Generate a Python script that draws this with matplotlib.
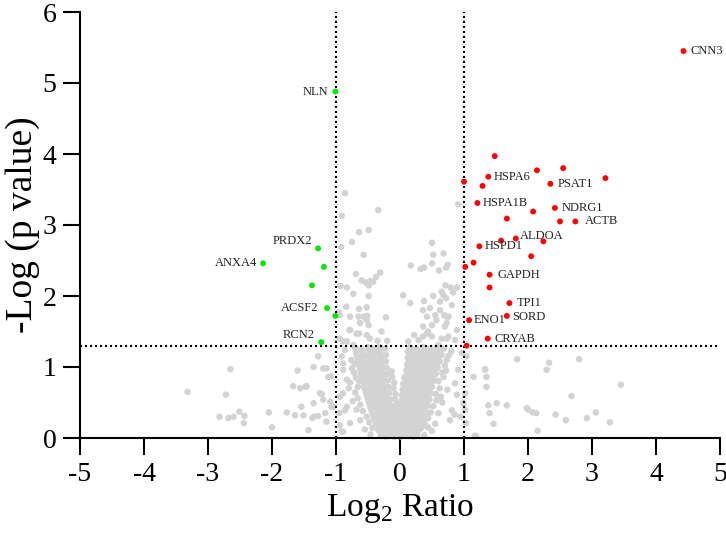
import matplotlib
matplotlib.use("Agg")
import matplotlib.pyplot as plt

plt.rcParams["font.family"] = ["Liberation Serif", "DejaVu Serif"]
plt.rcParams["mathtext.fontset"] = "custom"
plt.rcParams["mathtext.rm"] = "Liberation Serif"
plt.rcParams["axes.unicode_minus"] = False

# ---- data: (log2 ratio, -log p) ----
gray_core = [
    (-0.30, 0.04), (-0.22, 0.02), (-0.15, 0.05), (-0.09, 0.02), (-0.03, 0.03),
    (0.02, 0.02), (0.08, 0.05), (0.14, 0.03), (0.21, 0.02), (0.27, 0.05),
    (-0.34, 0.11), (-0.27, 0.09), (-0.19, 0.12), (-0.12, 0.10), (-0.05, 0.11),
    (0.03, 0.12), (0.09, 0.09), (0.15, 0.12), (0.22, 0.10), (0.29, 0.11),
    (-0.37, 0.19), (-0.30, 0.21), (-0.23, 0.18), (-0.16, 0.20), (-0.09, 0.18), (-0.04, 0.21),
    (0.04, 0.19), (0.10, 0.21), (0.17, 0.18), (0.24, 0.20), (0.31, 0.19),
    (-0.41, 0.28), (-0.34, 0.26), (-0.27, 0.29), (-0.20, 0.27), (-0.13, 0.29), (-0.07, 0.27),
    (0.05, 0.28), (0.11, 0.26), (0.18, 0.29), (0.25, 0.27), (0.32, 0.29), (0.38, 0.26),
    (-0.44, 0.37), (-0.37, 0.35), (-0.30, 0.38), (-0.23, 0.36), (-0.16, 0.38), (-0.10, 0.36),
    (0.06, 0.37), (0.13, 0.35), (0.20, 0.38), (0.27, 0.36), (0.34, 0.38), (0.41, 0.36),
    (-0.47, 0.46), (-0.40, 0.44), (-0.33, 0.47), (-0.26, 0.45), (-0.19, 0.47), (-0.12, 0.45),
    (0.07, 0.46), (0.14, 0.44), (0.21, 0.47), (0.28, 0.45), (0.35, 0.47), (0.43, 0.45),
    (-0.50, 0.55), (-0.43, 0.53), (-0.36, 0.56), (-0.29, 0.54), (-0.22, 0.56), (-0.15, 0.54),
    (0.08, 0.55), (0.15, 0.53), (0.23, 0.56), (0.30, 0.54), (0.38, 0.56), (0.46, 0.54),
    (-0.53, 0.64), (-0.46, 0.62), (-0.38, 0.65), (-0.31, 0.63), (-0.24, 0.65), (-0.17, 0.63),
    (0.09, 0.64), (0.17, 0.62), (0.24, 0.65), (0.32, 0.63), (0.40, 0.65), (0.48, 0.63),
    (-0.56, 0.73), (-0.48, 0.71), (-0.41, 0.74), (-0.33, 0.72), (-0.26, 0.74), (-0.18, 0.72),
    (0.10, 0.73), (0.18, 0.71), (0.26, 0.74), (0.34, 0.72), (0.42, 0.74), (0.50, 0.72),
    (-0.58, 0.82), (-0.50, 0.80), (-0.43, 0.83), (-0.35, 0.81), (-0.27, 0.83), (-0.19, 0.81),
    (0.11, 0.82), (0.19, 0.80), (0.28, 0.83), (0.36, 0.81), (0.45, 0.83), (0.53, 0.81),
    (-0.61, 0.91), (-0.52, 0.89), (-0.44, 0.92), (-0.36, 0.90), (-0.28, 0.92), (-0.20, 0.90),
    (0.12, 0.91), (0.20, 0.89), (0.29, 0.92), (0.38, 0.90), (0.47, 0.92), (0.56, 0.90),
    (-0.63, 1.00), (-0.54, 0.98), (-0.46, 1.01), (-0.38, 0.99), (-0.30, 1.01), (-0.21, 0.99),
    (0.13, 1.00), (0.22, 0.98), (0.31, 1.01), (0.40, 0.99), (0.50, 1.01), (0.59, 0.99),
    (-0.65, 1.09), (-0.56, 1.07), (-0.47, 1.10), (-0.39, 1.08), (-0.30, 1.10), (-0.22, 1.08),
    (0.14, 1.09), (0.23, 1.07), (0.33, 1.10), (0.42, 1.08), (0.52, 1.10), (0.62, 1.08),
    (-0.68, 1.18), (-0.58, 1.16), (-0.49, 1.19), (-0.40, 1.17), (-0.31, 1.19), (-0.22, 1.17),
    (0.15, 1.18), (0.24, 1.16), (0.34, 1.19), (0.44, 1.17), (0.55, 1.19), (0.65, 1.17),
    (-0.70, 1.27), (-0.60, 1.25), (-0.50, 1.28), (-0.41, 1.26), (-0.32, 1.28), (-0.23, 1.26),
    (0.16, 1.27), (0.26, 1.25), (0.36, 1.28), (0.47, 1.26), (0.58, 1.28), (0.69, 1.26),
]

gray_core_fill = [
    (-0.26, 0.07), (-0.18, 0.06), (-0.12, 0.08), (-0.06, 0.06), (0.00, 0.07),
    (0.05, 0.08), (0.11, 0.06), (0.18, 0.07), (0.24, 0.08),
    (-0.32, 0.15), (-0.23, 0.14), (-0.16, 0.16), (-0.08, 0.15), (-0.01, 0.14),
    (0.06, 0.16), (0.12, 0.14), (0.19, 0.16), (0.26, 0.15), (0.33, 0.14),
    (-0.38, 0.24), (-0.31, 0.23), (-0.24, 0.25), (-0.17, 0.23), (-0.10, 0.24),
    (0.01, 0.23), (0.08, 0.25), (0.14, 0.23), (0.21, 0.24), (0.28, 0.23), (0.35, 0.25),
    (-0.42, 0.33), (-0.35, 0.32), (-0.28, 0.34), (-0.21, 0.32), (-0.14, 0.33),
    (0.03, 0.32), (0.09, 0.34), (0.16, 0.32), (0.23, 0.33), (0.30, 0.32), (0.37, 0.34),
    (-0.46, 0.42), (-0.39, 0.41), (-0.32, 0.43), (-0.25, 0.41), (-0.18, 0.42),
    (0.04, 0.41), (0.10, 0.43), (0.17, 0.41), (0.24, 0.42), (0.31, 0.41), (0.39, 0.43),
    (-0.49, 0.51), (-0.42, 0.50), (-0.35, 0.52), (-0.28, 0.50), (-0.21, 0.51),
    (0.05, 0.50), (0.12, 0.52), (0.19, 0.50), (0.26, 0.51), (0.34, 0.50), (0.42, 0.52),
    (-0.52, 0.60), (-0.45, 0.59), (-0.38, 0.61), (-0.30, 0.59), (-0.23, 0.60),
    (0.06, 0.59), (0.13, 0.61), (0.20, 0.59), (0.28, 0.60), (0.36, 0.59), (0.44, 0.61),
    (-0.55, 0.69), (-0.47, 0.68), (-0.40, 0.70), (-0.32, 0.68), (-0.25, 0.69),
    (0.07, 0.68), (0.14, 0.70), (0.22, 0.68), (0.30, 0.69), (0.38, 0.68), (0.46, 0.70),
    (-0.57, 0.78), (-0.49, 0.77), (-0.42, 0.79), (-0.34, 0.77), (-0.26, 0.78),
    (0.08, 0.77), (0.15, 0.79), (0.23, 0.77), (0.32, 0.78), (0.40, 0.77), (0.49, 0.79),
    (-0.60, 0.87), (-0.51, 0.86), (-0.43, 0.88), (-0.35, 0.86), (-0.27, 0.87),
    (0.09, 0.86), (0.16, 0.88), (0.25, 0.86), (0.34, 0.87), (0.42, 0.86), (0.51, 0.88),
    (-0.62, 0.96), (-0.53, 0.95), (-0.45, 0.97), (-0.37, 0.95), (-0.29, 0.96),
    (0.10, 0.95), (0.17, 0.97), (0.26, 0.95), (0.35, 0.96), (0.45, 0.95), (0.54, 0.97),
    (-0.64, 1.05), (-0.55, 1.04), (-0.47, 1.06), (-0.38, 1.04), (-0.29, 1.05),
    (0.11, 1.04), (0.18, 1.06), (0.28, 1.04), (0.37, 1.05), (0.47, 1.04), (0.57, 1.06),
    (-0.66, 1.14), (-0.57, 1.13), (-0.48, 1.15), (-0.39, 1.13), (-0.30, 1.14),
    (0.12, 1.13), (0.19, 1.15), (0.29, 1.13), (0.39, 1.14), (0.49, 1.13), (0.60, 1.15),
    (-0.69, 1.23), (-0.59, 1.22), (-0.49, 1.24), (-0.40, 1.22), (-0.31, 1.23),
    (0.12, 1.22), (0.21, 1.24), (0.31, 1.22), (0.41, 1.23), (0.52, 1.22), (0.63, 1.24),
    # inner edge of the V and loose points on its flanks
    (-0.06, 0.40), (-0.05, 0.48), (-0.08, 0.55), (-0.07, 0.62), (-0.10, 0.70),
    (-0.09, 0.78), (-0.12, 0.86), (-0.13, 0.94), (0.00, 0.45), (0.02, 0.52),
    (0.03, 0.60), (0.04, 0.68), (0.05, 0.76), (0.07, 0.85), (-0.01, 0.35),
    (-0.03, 0.30), (-0.66, 0.56), (-0.70, 0.64), (-0.64, 0.80), (-0.69, 0.85),
    (-0.75, 0.98), (-0.71, 1.04), (-0.62, 0.47), (-0.58, 0.38), (-0.52, 0.30),
    (-0.48, 0.22), (-0.43, 0.14), (-0.78, 0.78), (-0.66, 0.72), (0.56, 0.62),
    (0.60, 0.80), (0.62, 0.70), (0.66, 0.92), (0.70, 1.02), (0.52, 0.45),
    (0.48, 0.36), (0.44, 0.28), (0.40, 0.18), (0.57, 0.53), (0.64, 0.58),
    (0.72, 0.95), (0.76, 1.16),
]

gray_upper = [
    (-0.86, 3.45), (-0.34, 3.21), (-0.91, 3.13), (-0.64, 2.90), (-0.49, 2.93),
    (-0.75, 2.76), (-0.92, 2.69), (-0.57, 2.58), (0.50, 2.75), (0.52, 2.58),
    (0.68, 2.60), (0.91, 3.29), (0.17, 2.43), (0.32, 2.38), (0.375, 2.40),
    (0.50, 2.46), (0.61, 2.36), (0.72, 2.40), (0.745, 2.44), (-0.69, 2.31),
    (-0.31, 2.33), (-0.375, 2.27), (-0.60, 2.22), (-0.53, 2.19), (-0.47, 2.21),
    (-0.49, 2.15), (-0.93, 2.14), (-0.83, 2.12), (-0.73, 2.03), (-0.49, 2.00),
    (0.71, 2.15), (0.79, 2.12), (0.89, 2.12), (0.83, 2.05), (0.52, 2.00),
    (0.68, 2.01), (0.72, 1.97), (0.375, 1.93), (-0.84, 1.85), (-0.64, 1.82),
    (-0.52, 1.84), (-0.96, 1.77), (-0.78, 1.71), (-0.51, 1.72), (-0.22, 1.70),
    (0.42, 1.71), (0.55, 1.73), (0.625, 1.80), (0.73, 1.71), (-0.42, 2.20),
    (0.05, 2.01), (0.16, 1.90), (0.36, 1.80), (0.47, 1.83), (0.625, 1.92),
    (0.65, 2.06), (0.81, 1.87), (0.76, 1.71), (0.70, 1.57), (0.50, 1.59),
    (0.44, 1.50), (0.36, 1.43), (0.65, 1.40), (0.73, 1.40), (0.60, 1.31),
    (-0.57, 1.71), (-0.625, 1.62), (-0.49, 1.59), (-0.79, 1.52), (-0.64, 1.47),
    (-0.52, 1.45), (-0.47, 1.40), (-0.29, 1.50), (-0.20, 1.37), (-0.35, 1.37),
    (-0.94, 1.40), (-0.83, 1.36), (0.69, 1.73), (0.73, 1.62), (0.57, 1.66),
    (0.36, 1.57), (0.42, 1.47), (0.22, 1.45), (0.29, 1.38), (0.50, 1.43),
    (0.755, 1.43), (0.89, 1.52), (0.86, 1.38), (0.13, 1.36), (-0.65, 1.71),
    (-0.52, 1.66), (-0.94, 1.73), (-0.78, 1.52), (-0.68, 1.47), (-0.89, 1.36),
]

gray_outer = [
    (-2.65, 0.97), (-3.32, 0.65), (-2.72, 0.61), (-1.67, 0.73), (-1.60, 0.95),
    (-1.56, 0.70), (-1.46, 0.73), (-1.28, 1.15), (-1.15, 0.98), (-1.08, 0.87),
    (-1.22, 0.62), (-1.35, 0.49), (-1.54, 0.44), (-1.77, 0.36), (-2.05, 0.36),
    (-2.00, 0.15), (-2.51, 0.37), (-2.43, 0.31), (-2.60, 0.30), (-2.68, 0.28),
    (-2.82, 0.30), (-2.44, 0.21), (-1.64, 0.32), (-1.51, 0.32), (-1.37, 0.28),
    (-1.28, 0.31), (-1.17, 0.35), (-1.15, 0.23), (-1.09, 0.51), (-1.04, 0.44),
    (-1.43, 0.11), (-0.89, 0.09), (-0.95, 0.35), (-0.86, 1.24), (-0.73, 1.31),
    (-0.89, 1.05), (-0.83, 0.82), (-0.89, 0.63), (-0.83, 0.44), (-0.94, 0.18),
    (-1.48, 0.72), (-1.35, 1.00), (-1.20, 0.98), (-1.12, 0.86), (-1.25, 0.63),
    (-1.20, 0.54), (-1.07, 0.44), (-1.35, 0.30), (-0.91, 1.15), (-0.89, 0.96),
    (-0.94, 0.58), (-0.86, 0.39), (-0.78, 0.21), (-0.91, 0.09), (-0.76, 1.10),
    (-0.80, 0.70), (-0.74, 0.52), (-0.72, 0.92), (-0.68, 0.40), (-0.62, 0.25),
    (-0.55, 0.12), (-0.46, 0.05), (0.38, 0.04), (0.44, 0.15),
    (1.83, 1.11), (2.33, 1.06), (2.29, 0.96), (2.80, 1.11), (1.33, 0.97),
    (1.35, 0.86), (3.45, 0.75), (2.68, 0.59), (1.38, 0.46), (1.51, 0.49),
    (1.67, 0.46), (1.40, 0.35), (1.46, 0.20), (2.00, 0.40), (2.07, 0.36),
    (2.13, 0.35), (2.43, 0.33), (2.59, 0.25), (2.92, 0.28), (3.06, 0.36),
    (3.28, 0.22), (2.15, 0.10), (1.17, 0.03), (1.02, 0.39), (1.03, 0.21),
    (1.04, 1.15), (1.15, 0.86), (1.33, 0.96), (1.35, 0.72), (1.02, 0.63),
    (0.99, 0.49), (0.91, 0.96), (0.86, 0.77), (0.89, 0.61), (0.81, 0.39),
    (0.73, 1.10), (0.68, 0.86), (0.94, 0.30), (0.78, 0.25), (0.85, 0.33),
    (0.66, 0.50), (0.74, 0.68), (0.60, 0.35), (0.55, 0.20), (0.50, 0.10),
    (1.98, 0.42), (1.19, 0.03), (0.97, 1.20), (0.80, 1.22),
]

red_plain = [
    (1.48, 3.97), (1.29, 3.55), (2.14, 3.77), (2.55, 3.80), (3.21, 3.66),
    (2.08, 3.19), (1.67, 3.09), (2.50, 3.05), (1.58, 2.78), (2.24, 2.77),
    (2.05, 2.56), (1.40, 2.12), (1.00, 3.61), (1.02, 2.41), (1.15, 2.47),
    (1.04, 1.30),
]
red_named = [
    ("CNN3", 4.43, 5.45), ("HSPA6", 1.38, 3.68), ("PSAT1", 2.35, 3.58),
    ("HSPA1B", 1.21, 3.31), ("NDRG1", 2.42, 3.24), ("ACTB", 2.74, 3.05),
    ("ALDOA", 1.81, 2.81), ("HSPD1", 1.24, 2.70), ("GAPDH", 1.40, 2.30),
    ("TPI1", 1.71, 1.90), ("SORD", 1.67, 1.72), ("ENO1", 1.08, 1.66),
    ("CRYAB", 1.37, 1.40),
]
green_plain = [(-1.19, 2.41), (-1.375, 2.15), (-1.01, 1.72)]
green_named = [
    ("NLN", -1.01, 4.88), ("PRDX2", -1.28, 2.67), ("ANXA4", -2.14, 2.46),
    ("ACSF2", -1.14, 1.83), ("RCN2", -1.23, 1.35),
]

# label offsets in points (from marker)
label_off = {
    "CNN3": (5, 0), "HSPA6": (4, 0), "PSAT1": (5, 0), "HSPA1B": (4, 0),
    "NDRG1": (5, 0), "ACTB": (6.5, 0), "ALDOA": (3, 1.5), "HSPD1": (4, 0),
    "GAPDH": (6, 0), "TPI1": (5, 0), "SORD": (3.5, -0.5), "ENO1": (3, 0),
    "CRYAB": (5, 0),
    "NLN": (-5, 0), "PRDX2": (-4, 5), "ANXA4": (-4.5, 0), "ACSF2": (-6.5, 0),
    "RCN2": (-4.5, 5),
}

fig = plt.figure(figsize=(7.26, 5.40), dpi=100)
ax = fig.add_axes([80 / 726, 102 / 540, 640 / 726, 426 / 540])

ls = (0, (1, 1.4))
ax.axhline(1.3, color="black", lw=1.5, ls=ls, zorder=2.5)
ax.axvline(-1, color="black", lw=1.5, ls=ls, zorder=2.5)
ax.axvline(1, color="black", lw=1.5, ls=ls, zorder=2.5)

gray = gray_core + gray_core_fill + gray_upper + gray_outer
ax.scatter([p[0] for p in gray], [p[1] for p in gray], s=22, color="#d3d3d3",
           edgecolors="none", zorder=2, clip_on=False)

reds = red_plain + [(x, y) for _, x, y in red_named]
greens = green_plain + [(x, y) for _, x, y in green_named]
ax.scatter([p[0] for p in reds], [p[1] for p in reds], s=18, color="#ff0000",
           edgecolors="none", zorder=3)
ax.scatter([p[0] for p in greens], [p[1] for p in greens], s=18, color="#00e600",
           edgecolors="none", zorder=3)

for name, x, y in red_named + green_named:
    dx, dy = label_off[name]
    ax.annotate(name, (x, y), xytext=(dx, dy), textcoords="offset points",
                ha="left" if dx > 0 else "right", va="center",
                fontsize=9, color="#222222", annotation_clip=False)

ax.set_xlim(-5, 5)
ax.set_ylim(0, 6)
ax.set_xticks(range(-5, 6))
ax.set_yticks(range(0, 7))
for s in ("top", "right"):
    ax.spines[s].set_visible(False)
for s in ("left", "bottom"):
    ax.spines[s].set_linewidth(1.5)
ax.tick_params(length=12, width=1.5, labelsize=20, pad=5)
ax.set_xlabel(r"Log$_\mathregular{2}$ Ratio", fontsize=24, labelpad=4)
ax.set_ylabel("-Log (p value)", fontsize=27, labelpad=2)

fig.savefig("out.png", dpi=100)
